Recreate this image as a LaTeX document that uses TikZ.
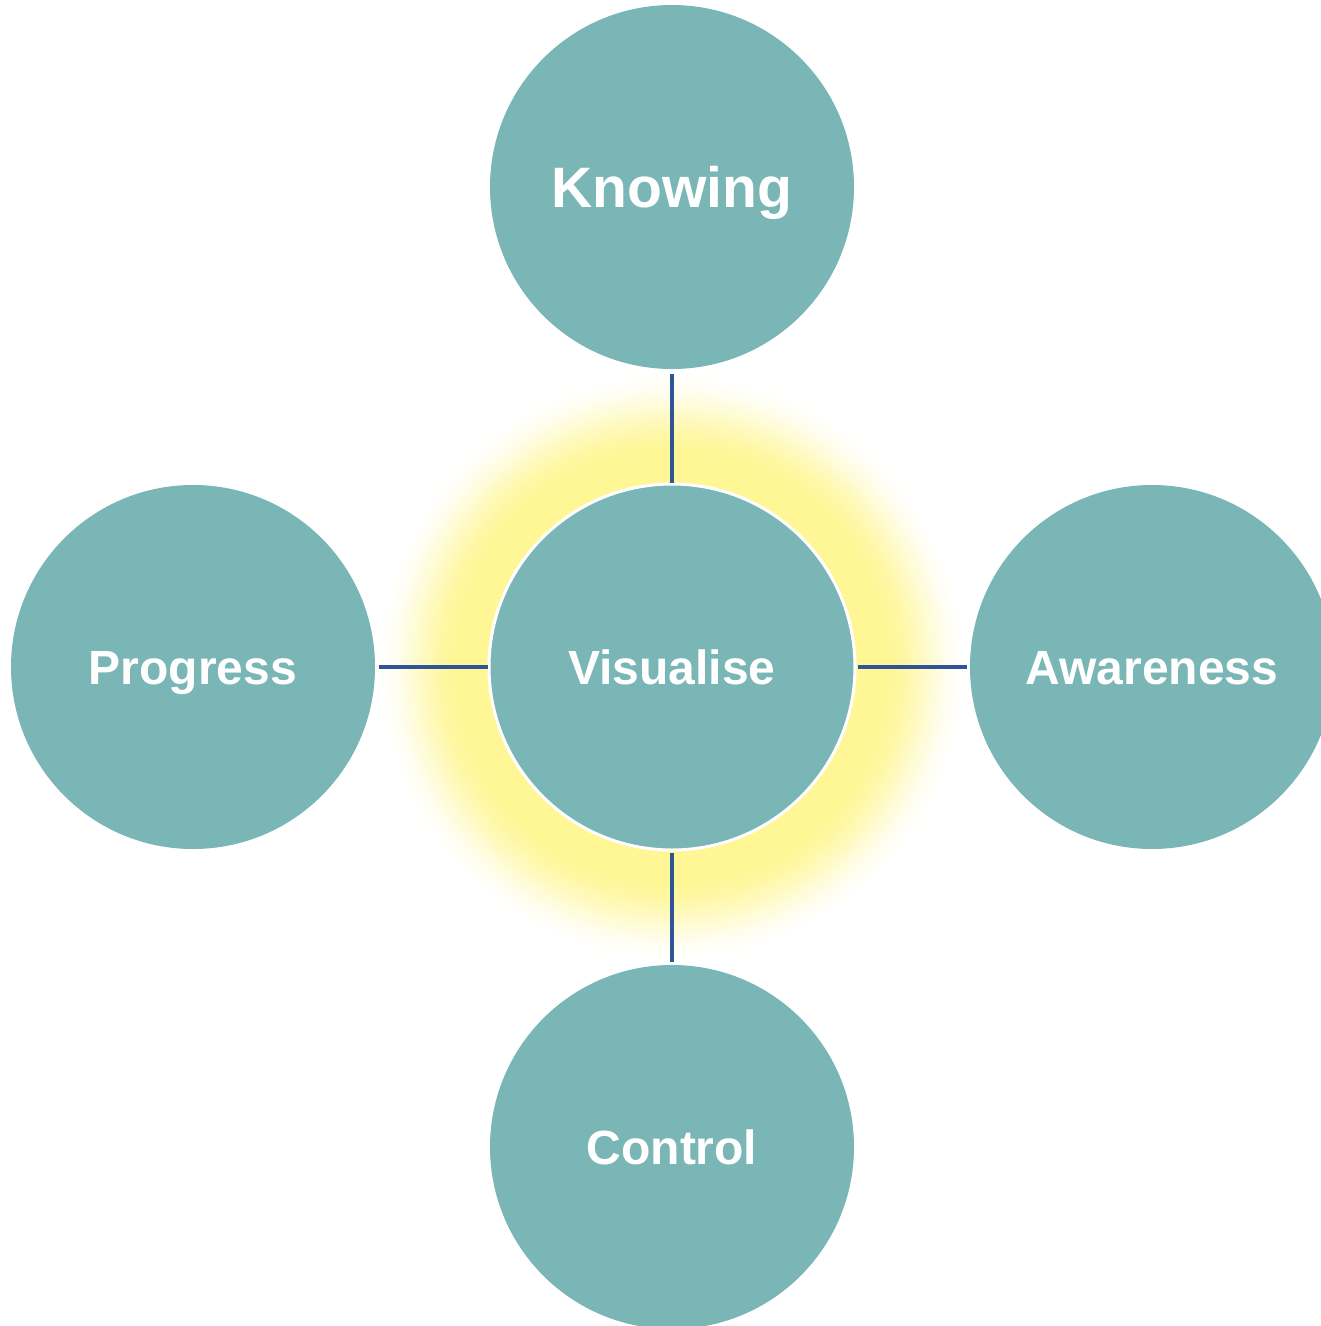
\documentclass[tikz,border=0pt]{standalone}
\usepackage{fontspec}
\setmainfont{Liberation Sans}
\definecolor{teal}{RGB}{122,182,182}
\definecolor{linkblue}{RGB}{47,85,151}
\definecolor{glowy}{RGB}{255,246,150}
\tikzset{
  bubble/.style={circle, fill=teal, draw=none, minimum size=364pt, inner sep=0pt,
    text=white, font=\bfseries\fontsize{48}{58}\selectfont, text height=35pt, text depth=0pt},
  link/.style={draw=linkblue, line width=4.5pt}
}
\begin{document}
\begin{tikzpicture}[x=1pt,y=-1pt]
\useasboundingbox (0,0) rectangle (1321,1326);
\fill[white] (0,0) rectangle (1321,1326);
\foreach \r in {300,298,...,206}{
  \pgfmathsetmacro\tt{max(0,min(1,(\r-212)/(298-212)))}
  \pgfmathsetmacro\p{100*(1-\tt*\tt*(3-2*\tt))}
  \fill[glowy!\p!white] (672,667) circle (\r pt);
}
\node[bubble, font=\bfseries\fontsize{57}{68}\selectfont, text height=41pt] (K) at (672,187) {Knowing};
\node[bubble] (P) at (193,667) {Progress};
\node[bubble] (A) at (1152,667) {Awareness};
\node[bubble] (C) at (672,1147) {Control};
\node[bubble, minimum size=366pt, draw=white, line width=3pt] (V) at (672,667) {Visualise};
\draw[link, shorten <=5pt] (K) -- (V);
\draw[link, shorten <=4pt] (P) -- (V);
\draw[link, shorten <=1pt, shorten >=3pt] (V) -- (A);
\draw[link, shorten <=1pt, shorten >=3pt] (V) -- (C);
\end{tikzpicture}
\end{document}
